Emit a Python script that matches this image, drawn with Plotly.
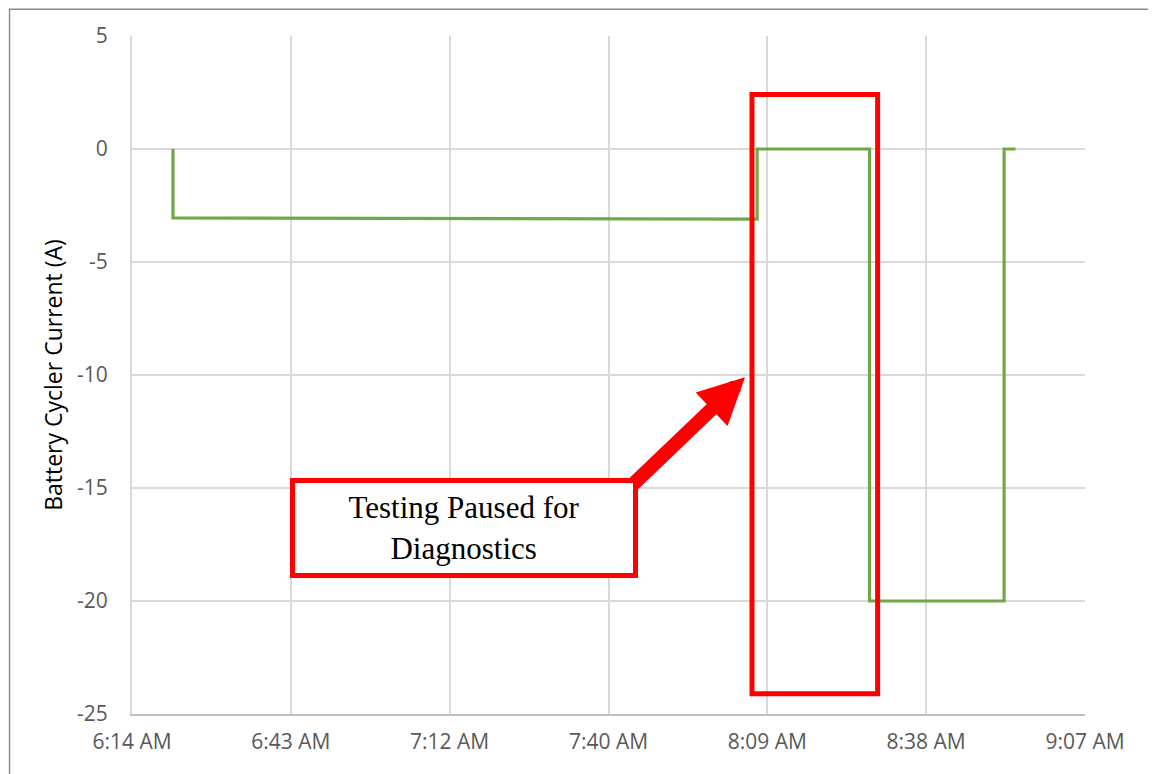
import plotly.graph_objects as go

# step profile of the cycler current
times = [
    "2020-01-01 06:21:50", "2020-01-01 06:21:50",
    "2020-01-01 08:07:45", "2020-01-01 08:07:45",
    "2020-01-01 08:28:08", "2020-01-01 08:28:08",
    "2020-01-01 08:52:32", "2020-01-01 08:52:32",
    "2020-01-01 08:54:36",
]
current = [0, -3.05, -3.1, 0, 0, -20, -20, 0, 0]

tick_vals = [
    "2020-01-01 06:14:24", "2020-01-01 06:43:12", "2020-01-01 07:12:00",
    "2020-01-01 07:40:48", "2020-01-01 08:09:36", "2020-01-01 08:38:24",
    "2020-01-01 09:07:12",
]
tick_text = ["6:14 AM", "6:43 AM", "7:12 AM", "7:40 AM", "8:09 AM", "8:38 AM", "9:07 AM"]
y_ticks = [5, 0, -5, -10, -15, -20, -25]
y_tick_text = ["5", "0", "-5", "-10", "-15", "-20", "-25"]

fig = go.Figure()
fig.add_trace(go.Scatter(
    x=times, y=current, mode="lines",
    line=dict(color="#70a848", width=3.2),
    showlegend=False,
))

tick_font = dict(family="Open Sans", size=21, color="#595959")

fig.update_xaxes(
    range=[tick_vals[0], tick_vals[-1]],
    tickvals=tick_vals, ticktext=tick_text,
    showgrid=True, gridcolor="#d9d9d9", gridwidth=2,
    showline=True, linecolor="#bfbfbf", linewidth=2,
    zeroline=False, ticks="", tickfont=tick_font, ticklabelstandoff=8,
)
fig.update_yaxes(
    range=[-25, 5], tickvals=y_ticks, ticktext=y_tick_text,
    showgrid=True, gridcolor="#d9d9d9", gridwidth=2,
    showline=True, linecolor="#d9d9d9", linewidth=2,
    zeroline=False, ticks="", tickfont=tick_font, ticklabelstandoff=18,
    title=dict(text="Battery Cycler Current (A)",
               font=dict(family="Open Sans", size=23, color="black"),
               standoff=8),
)

# red box around the paused period
fig.add_shape(type="rect", xref="x", yref="y",
              x0="2020-01-01 08:06:49", x1="2020-01-01 08:29:36",
              y0=-24.1, y1=2.41,
              line=dict(color="red", width=5), fillcolor="rgba(0,0,0,0)")

# outer frame (bottom edge falls off the picture)
fig.add_shape(type="rect", xref="paper", yref="paper",
              x0=-0.1285, x1=1.0735, y0=-0.12, y1=1.0395,
              line=dict(color="#8c8c8c", width=1.5))

# thick arrow
fig.add_annotation(
    x="2020-01-01 08:05:33", y=-10.1, xref="x", yref="y",
    ax=-113, ay=108, text="", showarrow=True,
    arrowhead=2, arrowsize=0.66, arrowwidth=14, arrowcolor="red",
)
# label box
fig.add_annotation(
    x="2020-01-01 07:14:36", y=-16.77, xref="x", yref="y",
    text="Testing Paused for<br>Diagnostics", showarrow=False,
    font=dict(family="Liberation Serif", size=31, color="black"),
    bgcolor="white", bordercolor="red", borderwidth=5, borderpad=0,
    width=338, height=90, align="center",
)

# page adds an 8px body margin, so the figure is shrunk by that much
fig.update_layout(
    width=1148, height=766,
    margin=dict(l=124, r=71, t=28, b=60),
    paper_bgcolor="white", plot_bgcolor="white",
)

fig.write_html("out.html")
